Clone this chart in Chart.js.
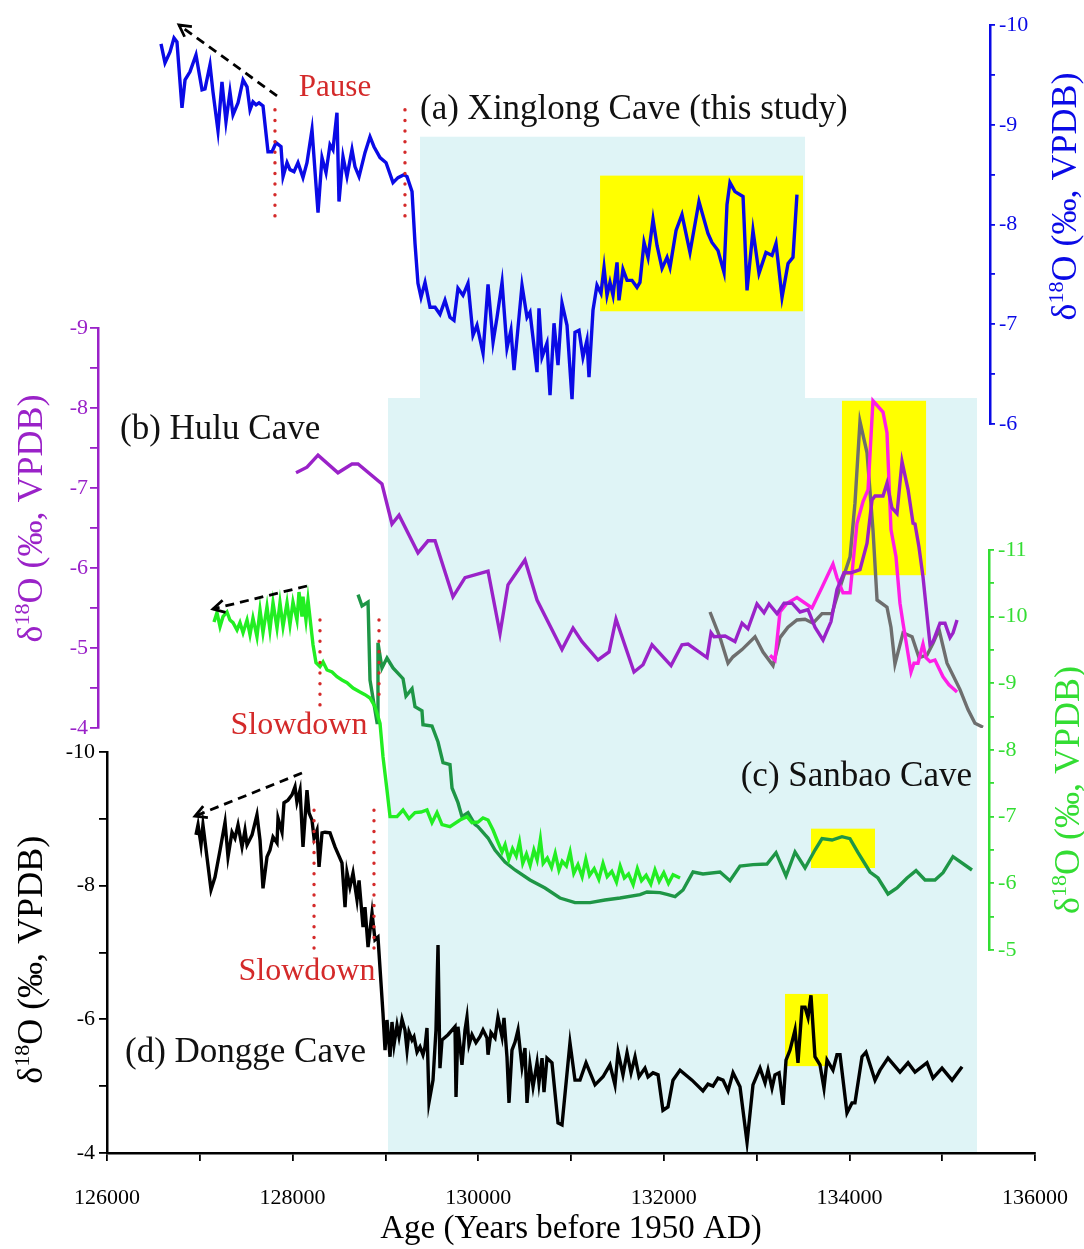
<!DOCTYPE html>
<html><head><meta charset="utf-8">
<script src="https://cdn.jsdelivr.net/npm/chart.js@4.4.1/dist/chart.umd.min.js"></script>
<style>html,body{margin:0;padding:0;background:#fff;}canvas{display:block;}</style>
</head><body>
<canvas id="chart" width="1084" height="1249"></canvas>
<script>
// ---------------- DATA ----------------
// (a) Xinglong Cave (this study)
const xinglongAge = [126582,126625,126679,126722,126754,126808,126841,126894,126959,127024,127056,127110,127142,127196,127239,127282,127325,127358,127412,127466,127509,127541,127573,127606,127638,127681,127735,127778,127821,127875,127897,127940,127972,128015,128058,128112,128155,128209,128274,128317,128360,128403,128435,128478,128500,128543,128586,128640,128672,128716,128780,128834,128877,128942,129007,129082,129136,129200,129233,129287,129319,129351,129384,129427,129481,129535,129588,129642,129696,129739,129782,129836,129890,129944,129987,130052,130106,130160,130203,130257,130310,130353,130386,130472,130526,130558,130634,130655,130688,130741,130774,130817,130860,130903,130957,131011,131043,131086,131129,131172,131194,131237,131280,131323,131356,131388,131420,131453,131496,131517,131560,131604,131657,131711,131743,131787,131830,131884,131927,131981,132035,132067,132132,132196,132282,132379,132476,132519,132584,132649,132681,132713,132767,132854,132897,132961,133026,133101,133166,133209,133274,133339,133392,133435];
const xinglongD18O = [-9.81,-9.62,-9.73,-9.87,-9.83,-9.17,-9.45,-9.53,-9.70,-9.35,-9.36,-9.60,-9.33,-8.94,-9.43,-9.03,-9.33,-9.10,-9.22,-9.45,-9.38,-9.15,-9.23,-9.20,-9.22,-9.19,-8.73,-8.73,-8.82,-8.78,-8.48,-8.62,-8.55,-8.53,-8.62,-8.47,-8.62,-8.95,-8.12,-8.67,-8.52,-8.80,-8.75,-9.12,-8.23,-8.68,-8.48,-8.75,-8.58,-8.48,-8.72,-8.88,-8.78,-8.67,-8.62,-8.42,-8.47,-8.50,-8.48,-8.33,-7.81,-7.41,-7.27,-7.42,-7.17,-7.17,-7.10,-7.24,-7.07,-7.04,-7.36,-7.29,-7.41,-6.89,-6.99,-6.71,-7.40,-6.82,-7.07,-7.42,-6.76,-6.94,-6.54,-7.39,-7.07,-7.12,-6.52,-7.16,-6.67,-6.81,-6.29,-7.01,-6.59,-7.21,-6.99,-6.25,-6.92,-6.94,-6.67,-6.84,-6.47,-7.14,-7.39,-7.31,-7.57,-7.29,-7.42,-7.29,-7.62,-7.24,-7.55,-7.44,-7.44,-7.37,-7.42,-7.82,-7.67,-8.05,-7.79,-7.56,-7.67,-7.57,-7.94,-8.10,-7.72,-8.23,-7.91,-7.82,-7.74,-7.52,-8.20,-8.42,-8.33,-8.28,-7.34,-7.94,-7.51,-7.72,-7.69,-7.81,-7.27,-7.61,-7.67,-8.30];

// (b) Hulu Cave (purple), second Hulu record (magenta), grey record
const huluAge = [128037,128155,128274,128489,128640,128705,128963,129071,129147,129351,129459,129535,129728,129858,130106,130235,130321,130504,130634,130903,131022,131119,131291,131410,131485,131679,131776,131873,132078,132196,132261,132466,132509,132541,132660,132767,132843,132907,133004,133080,133134,133220,133296,133382,133468,133554,133629,133716,133802,133866,133942,134017,134114,134190,134244,134276,134362,134405,134459,134513,134567,134632,134686,134707,134750,134793,134869,134901,134976,135030,135084,135117,135160];
const huluD18O = [-7.19,-7.26,-7.41,-7.19,-7.30,-7.30,-7.05,-6.55,-6.66,-6.19,-6.34,-6.34,-5.64,-5.88,-5.96,-5.18,-5.79,-6.10,-5.60,-4.98,-5.25,-5.08,-4.85,-4.95,-5.36,-4.70,-4.79,-5.04,-4.78,-5.04,-5.05,-4.88,-5.19,-5.14,-5.15,-5.08,-5.31,-5.24,-5.55,-5.44,-5.55,-5.43,-5.56,-5.56,-5.45,-5.48,-5.26,-5.10,-5.33,-5.73,-5.94,-5.94,-5.98,-6.31,-6.85,-6.90,-6.90,-7.06,-6.75,-6.68,-7.33,-6.98,-6.56,-6.55,-6.26,-5.89,-5.04,-5.08,-5.31,-5.31,-5.13,-5.19,-5.35];
const hulu2Age = [133145,133198,133252,133328,133435,133597,133705,133823,133866,133931,134007,134082,134147,134201,134254,134362,134405,134448,134502,134545,134578,134664,134696,134739,134793,134825,134869,134922,135009,135073,135160];
const hulu2D18O = [-4.91,-4.85,-5.45,-5.56,-5.63,-5.50,-5.76,-6.05,-5.88,-5.69,-5.69,-6.56,-6.83,-6.98,-8.09,-7.95,-7.69,-6.48,-6.14,-5.56,-5.31,-4.70,-4.81,-4.81,-5.05,-4.88,-4.83,-4.85,-4.64,-4.54,-4.45];
const greyAge = [132498,132606,132692,132746,132843,132983,133069,133177,133252,133338,133435,133522,133608,133705,133813,133845,133899,133953,134007,134060,134114,134190,134254,134298,134405,134448,134491,134578,134675,134750,134836,134901,134966,135052,135192,135278,135353,135440];
const greyD18O = [-5.45,-5.13,-4.81,-4.89,-4.98,-5.14,-4.95,-4.78,-5.13,-5.26,-5.35,-5.36,-5.31,-5.43,-5.43,-5.56,-5.76,-5.95,-6.14,-6.81,-7.83,-7.44,-6.48,-5.60,-5.51,-5.26,-4.80,-5.19,-5.14,-4.88,-4.91,-5.06,-5.23,-4.81,-4.48,-4.23,-4.06,-4.01];

// (c) Sanbao Cave: bright green record and dark green record  [age, d18O]
const sanbaoA = [[127153,-9.92],[127185,-10.06],[127218,-9.85],[127250,-10.00],[127293,-10.07],[127325,-9.95],[127358,-9.91],[127401,-9.80],[127433,-9.91],[127466,-9.76],[127509,-9.95],[127541,-9.73],[127573,-9.98],[127616,-9.70],[127649,-10.10],[127681,-9.76],[127724,-10.15],[127756,-9.80],[127789,-10.21],[127832,-9.83],[127864,-10.21],[127897,-9.85],[127940,-10.21],[127972,-9.88],[128004,-10.22],[128047,-9.95],[128069,-10.37],[128101,-10.00],[128112,-10.30],[128144,-9.95],[128166,-10.25],[128198,-9.85],[128220,-9.58],[128252,-9.31],[128295,-9.25],[128328,-9.32],[128371,-9.20],[128425,-9.17],[128478,-9.10],[128532,-9.05],[128586,-9.01],[128651,-8.93],[128726,-8.87],[128780,-8.83],[128834,-8.78],[128888,-8.65],[128942,-8.40],[128974,-7.90],[129017,-7.40],[129050,-7.00],[129125,-7.00],[129190,-7.10],[129254,-6.97],[129319,-7.06],[129384,-7.07],[129448,-7.10],[129502,-6.91],[129556,-7.06],[129610,-6.88],[129696,-6.85],[129804,-6.95],[129879,-7.00],[129933,-6.91],[129998,-6.92],[130052,-6.98],[130106,-6.95],[130160,-6.80],[130203,-6.65],[130257,-6.47],[130290,-6.58],[130330,-6.36],[130370,-6.52],[130410,-6.41],[130445,-6.62],[130480,-6.30],[130520,-6.44],[130560,-6.27],[130600,-6.50],[130635,-6.35],[130670,-6.66],[130700,-6.30],[130745,-6.38],[130790,-6.24],[130830,-6.45],[130870,-6.20],[130905,-6.33],[130950,-6.26],[130990,-6.47],[131030,-6.15],[131075,-6.28],[131120,-6.10],[131160,-6.36],[131200,-6.12],[131250,-6.22],[131300,-6.06],[131345,-6.30],[131390,-6.10],[131440,-6.18],[131490,-6.02],[131530,-6.26],[131575,-6.08],[131620,-6.14],[131670,-5.98],[131715,-6.22],[131760,-6.04],[131810,-6.12],[131860,-5.99],[131905,-6.20],[131950,-6.03],[132000,-6.16],[132050,-6.00],[132100,-6.13],[132175,-6.08]];
const sanbaoB = [[128705,-10.33],[128748,-10.16],[128813,-10.22],[128834,-9.05],[128910,-8.41],[128920,-9.61],[128963,-9.23],[129017,-9.38],[129082,-9.23],[129190,-9.07],[129222,-8.81],[129287,-8.92],[129319,-8.65],[129394,-8.59],[129405,-8.38],[129502,-8.36],[129567,-8.12],[129621,-7.81],[129696,-7.78],[129718,-7.43],[129782,-7.21],[129825,-7.00],[129890,-7.06],[129966,-6.88],[129998,-6.85],[130073,-6.73],[130106,-6.68],[130181,-6.50],[130289,-6.32],[130397,-6.20],[130558,-6.05],[130720,-5.93],[130881,-5.78],[131043,-5.71],[131205,-5.71],[131366,-5.75],[131528,-5.78],[131744,-5.83],[131819,-5.87],[131959,-5.86],[132045,-5.83],[132121,-5.80],[132207,-5.90],[132315,-6.17],[132422,-6.14],[132606,-6.17],[132713,-6.04],[132821,-6.26],[132961,-6.28],[133112,-6.29],[133209,-6.46],[133317,-6.11],[133414,-6.47],[133522,-6.23],[133629,-6.50],[133705,-6.67],[133813,-6.65],[133920,-6.70],[134006,-6.67],[134093,-6.46],[134222,-6.17],[134308,-6.08],[134416,-5.84],[134513,-5.93],[134621,-6.08],[134718,-6.19],[134815,-6.05],[134922,-6.05],[135009,-6.16],[135116,-6.40],[135321,-6.20]];

// (d) Dongge Cave [age, d18O]
const dongge = [[126959,-8.76],[126981,-8.91],[127013,-8.61],[127034,-8.91],[127121,-7.94],[127164,-8.13],[127218,-8.53],[127272,-8.95],[127304,-8.43],[127347,-8.80],[127379,-8.71],[127412,-8.91],[127455,-8.58],[127487,-8.83],[127509,-8.61],[127563,-8.76],[127616,-9.06],[127649,-8.68],[127681,-7.96],[127724,-8.43],[127756,-8.53],[127789,-8.73],[127832,-8.64],[127843,-9.01],[127886,-8.80],[127907,-9.24],[127950,-9.28],[127994,-9.36],[128026,-9.48],[128047,-9.25],[128080,-9.43],[128112,-8.58],[128155,-9.43],[128177,-9.09],[128209,-8.98],[128231,-8.71],[128263,-8.83],[128285,-8.28],[128317,-8.79],[128349,-8.80],[128403,-8.79],[128457,-8.58],[128532,-8.34],[128565,-7.68],[128586,-8.20],[128618,-7.98],[128651,-8.19],[128694,-7.79],[128716,-8.08],[128759,-7.38],[128780,-7.68],[128813,-7.08],[128856,-7.59],[128888,-7.19],[128920,-7.23],[128974,-6.09],[128996,-5.54],[129017,-5.99],[129050,-5.44],[129071,-5.96],[129093,-5.62],[129125,-5.91],[129147,-5.74],[129179,-6.00],[129211,-5.84],[129233,-5.54],[129254,-5.81],[129287,-5.69],[129308,-5.74],[129341,-5.51],[129373,-5.59],[129405,-5.47],[129427,-5.59],[129448,-5.87],[129470,-4.76],[129513,-5.09],[129545,-5.84],[129567,-7.11],[129588,-5.27],[129610,-5.69],[129675,-5.77],[129750,-5.89],[129761,-4.84],[129782,-5.89],[129825,-5.32],[129858,-5.84],[129879,-6.03],[129901,-5.62],[129933,-5.77],[129976,-5.65],[130019,-5.74],[130052,-5.84],[130095,-5.72],[130106,-5.47],[130138,-5.80],[130181,-5.72],[130213,-6.03],[130257,-5.74],[130278,-6.02],[130310,-5.44],[130332,-4.75],[130364,-5.54],[130397,-5.66],[130429,-5.84],[130472,-5.29],[130504,-5.57],[130526,-4.75],[130558,-5.32],[130591,-4.99],[130634,-5.35],[130655,-5.05],[130688,-5.42],[130709,-4.91],[130741,-5.42],[130795,-5.35],[130860,-4.45],[130903,-4.42],[130989,-5.65],[131043,-5.09],[131097,-5.09],[131162,-5.35],[131259,-5.02],[131345,-5.14],[131420,-5.32],[131474,-5.02],[131507,-5.51],[131560,-5.17],[131604,-5.50],[131647,-5.20],[131690,-5.44],[131733,-5.14],[131797,-5.27],[131830,-5.14],[131884,-5.20],[131938,-5.17],[131991,-4.64],[132045,-4.69],[132099,-5.09],[132175,-5.24],[132304,-5.09],[132422,-4.93],[132476,-5.03],[132530,-5.00],[132584,-5.12],[132638,-5.09],[132692,-4.93],[132746,-5.20],[132821,-4.99],[132897,-4.16],[132961,-5.02],[133037,-5.27],[133091,-5.05],[133123,-5.24],[133166,-4.97],[133198,-5.17],[133242,-5.20],[133285,-4.72],[133317,-5.39],[133360,-5.54],[133414,-5.84],[133446,-5.35],[133489,-6.18],[133522,-6.18],[133554,-6.03],[133586,-6.36],[133629,-5.44],[133683,-5.32],[133726,-4.97],[133759,-5.39],[133823,-5.24],[133866,-5.47],[133899,-5.47],[133974,-4.60],[134028,-4.75],[134060,-4.75],[134136,-5.44],[134179,-5.51],[134276,-5.09],[134330,-5.24],[134416,-5.42],[134545,-5.21],[134632,-5.35],[134707,-5.21],[134836,-5.35],[134901,-5.12],[134998,-5.27],[135106,-5.09],[135214,-5.29]];

// axis ranges / ticks
const ageRange = [126000, 136000];
const ageLabelStep = 2000;
const rangeA = [-10, -6], rangeB = [-9, -4], rangeC = [-11, -5], rangeD = [-10, -4];

// annotation content (data coordinates)
const shadeBoxes = [
  {x0:129373, x1:133522, top:['yA',-8.88], bottom:['yA',-6.26]},
  {x0:129028, x1:135375, top:['yB',-8.125], bottom:['yD',-4]}
];
const highlightBoxes = [
  {x0:131313, x1:133500, top:['yA',-8.49], bottom:['yA',-7.13]},
  {x0:133920, x1:134826, top:['yB',-8.09], bottom:['yB',-5.91]},
  {x0:133586, x1:134276, top:['yC',-6.82], bottom:['yC',-6.23]},
  {x0:133306, x1:133769, top:['yD',-6.38], bottom:['yD',-5.30]}
];
const dottedMarks = [
  {axis:'yA', x:127810, y0:-9.15, y1:-8.045},
  {axis:'yA', x:129211, y0:-9.15, y1:-8.045},
  {axis:'yC', x:128295, y0:-9.95, y1:-8.645},
  {axis:'yC', x:128931, y0:-9.95, y1:-8.78},
  {axis:'yD', x:128231, y0:-9.13, y1:-7.007},
  {axis:'yD', x:128877, y0:-9.13, y1:-7.007}
];
const trendArrows = [
  {axis:'yA', from:[127832,-9.29], to:[126776,-10.0]},
  {axis:'yC', from:[128155,-10.46], to:[127142,-10.115]},
  {axis:'yD', from:[128101,-9.686], to:[126948,-9.04]}
];
const textNotes = [
  {text:'Pause', x:128457, axis:'yA', y:-9.37, color:'#d42a2a', size:31, align:'center'},
  {text:'(a) Xinglong Cave (this study)', x:129373, axis:'yA', y:-9.148, color:'#111', size:35, align:'left'},
  {text:'(b) Hulu Cave', x:126140, axis:'yB', y:-7.725, color:'#111', size:35, align:'left'},
  {text:'Slowdown', x:128069, axis:'yC', y:-8.36, color:'#d42a2a', size:32, align:'center'},
  {text:'(c) Sanbao Cave', x:135321, axis:'yC', y:-7.595, color:'#111', size:35, align:'right'},
  {text:'Slowdown', x:128155, axis:'yD', y:-6.71, color:'#d42a2a', size:32, align:'center'},
  {text:'(d) Dongge Cave', x:126194, axis:'yD', y:-5.496, color:'#111', size:35, align:'left'}
];

// ---------------- STYLE ----------------
const FONT = '"Liberation Serif", "Times New Roman", serif';
const C = {blue:'#0a0ae6', purple:'#9a22c8', magenta:'#ff1ee6', grey:'#6e6e6e', lime:'#22ee22', green:'#1e9646', black:'#000', red:'#d42a2a', cyan:'#dff4f6', yellow:'#ffff00'};
const AXIS_SPAN = {yA:[25,424], yB:[328,728], yC:[550,950], yD:[752,1153]};  // pixel extents of each y axis
const LABEL_SIDE = {yA:['right',9], yB:['left',10], yC:['right',9], yD:['left',12]};
const AXIS_TITLE = {yA:{dx:74, center:-8.28, color:C.blue}, yB:{dx:-68, center:-6.62, color:C.purple}, yC:{dx:78, center:-7.4, color:'#33dd33'}, yD:{dx:-77, center:-6.89, color:'#000'}};
const TITLE_SIZE = 36;

// scale whose tick labels can sit on either side of a freely positioned axis
class SideLabelScale extends Chart.LinearScale {
  _computeLabelItems(chartArea) {
    const items = super._computeLabelItems(chartArea);
    const side = LABEL_SIDE[this.id];
    if (!side) return items;
    const pos = this.options.position;
    const key = Object.keys(pos)[0];
    const ax = this.chart.scales[key].getPixelForValue(pos[key]);
    items.forEach(it => {
      it.options.translation = [side[0] === 'right' ? ax + side[1] : ax - side[1], it.options.translation[1]];
      it.options.textAlign = side[0] === 'right' ? 'left' : 'right';
    });
    return items;
  }
}
SideLabelScale.id = 'sideLinear';
SideLabelScale.defaults = Chart.LinearScale.defaults;
Chart.register(SideLabelScale);

function yAxis(range, xPos, color, tickLen, step) {
  return {
    type: 'sideLinear', position: {x: xPos}, reverse: true, min: range[0], max: range[1],
    ticks: {stepSize: step, autoSkip: false, color: color, font: {family: FONT, size: 22},
            callback: v => Number.isInteger(v) && (step !== 1 || v % 2 === 0) ? String(v) : ''},
    grid: {drawOnChartArea: false, color: color, lineWidth: 1.8, tickLength: tickLen},
    border: {color: color, width: 2.5},
    title: {display: false}
  };
}

const axisSpanPlugin = {
  id: 'axisSpan',
  afterLayout(chart) {
    for (const id in AXIS_SPAN) {
      const s = chart.scales[id];
      if (!s) continue;
      s.top = AXIS_SPAN[id][0]; s.bottom = AXIS_SPAN[id][1]; s.height = s.bottom - s.top;
      s.configure();
    }
  }
};

function px(chart, axis, x, y) {
  return [chart.scales.x.getPixelForValue(x), chart.scales[axis].getPixelForValue(y)];
}

const decorPlugin = {
  id: 'decor',
  beforeDraw(chart) {
    const ctx = chart.ctx, X = chart.scales.x;
    const box = (b, color) => {
      const x0 = X.getPixelForValue(b.x0), x1 = X.getPixelForValue(b.x1);
      const y0 = chart.scales[b.top[0]].getPixelForValue(b.top[1]);
      const y1 = chart.scales[b.bottom[0]].getPixelForValue(b.bottom[1]);
      ctx.fillStyle = color; ctx.fillRect(x0, y0, x1 - x0, y1 - y0);
    };
    ctx.save();
    shadeBoxes.forEach(b => box(b, C.cyan));
    highlightBoxes.forEach(b => box(b, C.yellow));
    ctx.restore();
  },
  afterDatasetsDraw(chart) {
    const ctx = chart.ctx;
    ctx.save();
    ctx.strokeStyle = C.red; ctx.lineWidth = 3.4; ctx.lineCap = 'round'; ctx.setLineDash([0.1, 10.5]);
    dottedMarks.forEach(m => {
      const a = px(chart, m.axis, m.x, m.y0), b = px(chart, m.axis, m.x, m.y1);
      ctx.beginPath(); ctx.moveTo(a[0], a[1]); ctx.lineTo(b[0], b[1]); ctx.stroke();
    });
    ctx.strokeStyle = '#000'; ctx.lineWidth = 2.8; ctx.lineCap = 'butt';
    trendArrows.forEach(t => {
      const a = px(chart, t.axis, t.from[0], t.from[1]), b = px(chart, t.axis, t.to[0], t.to[1]);
      ctx.setLineDash([9, 6]);
      ctx.beginPath(); ctx.moveTo(a[0], a[1]); ctx.lineTo(b[0], b[1]); ctx.stroke();
      const ang = Math.atan2(a[1] - b[1], a[0] - b[0]);
      ctx.setLineDash([]);
      ctx.beginPath();
      ctx.moveTo(b[0] + 13 * Math.cos(ang - 0.5), b[1] + 13 * Math.sin(ang - 0.5));
      ctx.lineTo(b[0], b[1]);
      ctx.lineTo(b[0] + 13 * Math.cos(ang + 0.5), b[1] + 13 * Math.sin(ang + 0.5));
      ctx.stroke();
    });
    ctx.textBaseline = 'middle';
    textNotes.forEach(n => {
      const p = px(chart, n.axis, n.x, n.y);
      ctx.font = `${n.size}px ${FONT}`; ctx.fillStyle = n.color; ctx.textAlign = n.align;
      ctx.fillText(n.text, p[0], p[1]);
    });
    ctx.restore();
  },
  afterDraw(chart) {
    const ctx = chart.ctx;
    for (const id in AXIS_TITLE) {
      const s = chart.scales[id], t = AXIS_TITLE[id];
      const pos = s.options.position, key = Object.keys(pos)[0];
      const cx = chart.scales[key].getPixelForValue(pos[key]) + t.dx;
      const cy = s.getPixelForValue(t.center);
      const size = TITLE_SIZE;
      ctx.save();
      ctx.translate(cx, cy); ctx.rotate(-Math.PI / 2);
      ctx.fillStyle = t.color; ctx.textAlign = 'left'; ctx.textBaseline = 'alphabetic';
      const parts = [['\u03B4', size, 0], ['18', Math.round(size * 0.6), -size * 0.36], ['O (\u2030, VPDB)', size, 0]];
      let w = 0;
      parts.forEach(p => { ctx.font = `${p[1]}px ${FONT}`; w += ctx.measureText(p[0]).width; });
      let x = -w / 2;
      parts.forEach(p => { ctx.font = `${p[1]}px ${FONT}`; ctx.fillText(p[0], x, size * 0.34 + p[2]); x += ctx.measureText(p[0]).width; });
      ctx.restore();
    }
  }
};

const line = (label, data, color, axis) => ({
  label, data, yAxisID: axis, borderColor: color, borderWidth: 3.4, pointRadius: 0, tension: 0, fill: false
});
const zip = (a, b) => a.map((v, i) => ({x: v, y: b[i]}));
const pairs = arr => arr.map(p => ({x: p[0], y: p[1]}));

new Chart(document.getElementById('chart'), {
  type: 'line',
  data: {
    datasets: [
      line('Xinglong', zip(xinglongAge, xinglongD18O), C.blue, 'yA'),
      line('Hulu', zip(huluAge, huluD18O), C.purple, 'yB'),
      line('Hulu 2', zip(hulu2Age, hulu2D18O), C.magenta, 'yB'),
      line('Grey', zip(greyAge, greyD18O), C.grey, 'yB'),
      line('Sanbao A', pairs(sanbaoA), C.lime, 'yC'),
      line('Sanbao B', pairs(sanbaoB), C.green, 'yC'),
      line('Dongge', pairs(dongge), C.black, 'yD')
    ]
  },
  options: {
    responsive: false, animation: false, devicePixelRatio: 1,
    layout: {padding: {left: 107, right: 49, top: 5, bottom: 0}},
    plugins: {legend: {display: false}, tooltip: {enabled: false}},
    scales: {
      x: {
        type: 'linear', position: 'bottom', min: ageRange[0], max: ageRange[1],
        ticks: {stepSize: 1000, autoSkip: false, maxRotation: 0, color: '#000', padding: 24,
                font: {family: FONT, size: 22}, callback: v => v % ageLabelStep === 0 ? String(v) : ''},
        grid: {drawOnChartArea: false, color: '#000', lineWidth: 1.8, tickLength: 8},
        border: {color: '#000', width: 2.5},
        title: {display: true, text: 'Age (Years before 1950 AD)', color: '#000', font: {family: FONT, size: 33}, padding: {top: 0, bottom: 0}},
        afterFit: s => { s.height = 96; s.paddingLeft = 0; s.paddingRight = 0; }
      },
      yA: yAxis(rangeA, 135515, C.blue, -6, 0.5),
      yB: yAxis(rangeB, 125903, C.purple, 7, 0.5),
      yC: yAxis(rangeC, 135505, '#33dd33', -6, 0.5),
      yD: yAxis(rangeD, 126000, '#000', 7, 1)
    }
  },
  plugins: [axisSpanPlugin, decorPlugin]
});
</script>
</body></html>
